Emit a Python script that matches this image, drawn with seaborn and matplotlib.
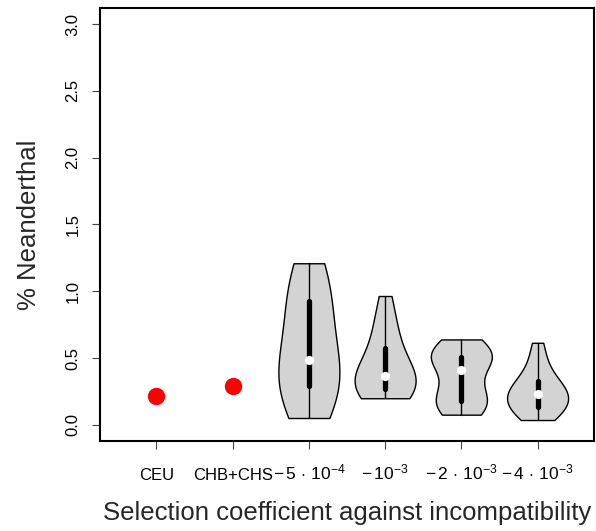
import numpy as np
import pandas as pd
import matplotlib
matplotlib.use("Agg")
import matplotlib.pyplot as plt
import seaborn as sns

# Category labels along the x axis
labels = ["CEU", "CHB+CHS",
          r"$-\,5\,\cdot\,10^{-4}$", r"$-\,10^{-3}$",
          r"$-\,2\,\cdot\,10^{-3}$", r"$-\,4\,\cdot\,10^{-3}$"]

# Observed Neanderthal ancestry (%) in the two populations
observed_groups = ["CEU", "CHB+CHS"]
observed_values = [0.214, 0.293]

# Simulated Neanderthal ancestry (%) for each selection coefficient
sim_5e4 = [0.052, 0.12, 0.19, 0.26, 0.30, 0.35, 0.40, 0.46,
           0.51, 0.64, 0.78, 0.917, 0.95, 1.04, 1.13, 1.21]
sim_1e3 = [0.20, 0.22, 0.25, 0.26, 0.273, 0.31, 0.33, 0.35,
           0.38, 0.43, 0.49, 0.55, 0.64, 0.72, 0.82, 0.965]
sim_2e3 = [0.077, 0.10, 0.14, 0.165, 0.185, 0.23, 0.29, 0.35,
           0.47, 0.48, 0.49, 0.50, 0.54, 0.57, 0.60, 0.64]
sim_4e3 = [0.037, 0.07, 0.10, 0.12, 0.14, 0.18, 0.20, 0.22,
           0.24, 0.26, 0.29, 0.32, 0.36, 0.42, 0.50, 0.615]

# Kernel bandwidth multiplier used for each violin
bw_factors = [1.3, 1.2, 1.0, 1.0]

sim_lists = [sim_5e4, sim_1e3, sim_2e3, sim_4e3]
obs = pd.DataFrame({"group": observed_groups, "value": observed_values})

sns.set_style("ticks")
plt.rcParams["font.family"] = ["Liberation Sans", "DejaVu Sans"]
plt.rcParams["mathtext.fontset"] = "custom"
plt.rcParams["mathtext.rm"] = "Liberation Sans"
plt.rcParams["mathtext.it"] = "Liberation Sans:italic"
plt.rcParams["mathtext.bf"] = "Liberation Sans:bold"

W, H = 596, 531
fig = plt.figure(figsize=(W / 100, H / 100), dpi=100)
ax = fig.add_axes([100 / W, (H - 441) / H, 494 / W, 433 / H])

for lab, vals, bw in zip(labels[2:], sim_lists, bw_factors):
    df = pd.DataFrame({"group": [lab] * len(vals), "value": vals})
    sns.violinplot(data=df, x="group", y="value", order=labels,
                   color="#D3D3D3", linecolor="black", linewidth=1.0,
                   cut=0, density_norm="width", width=0.8,
                   bw_method="scott", bw_adjust=bw,
                   inner="box",
                   inner_kws=dict(box_width=3.8, whis_width=1.0, marker="o",
                                  markersize=5.6, markeredgewidth=1.0),
                   ax=ax)

sns.stripplot(data=obs, x="group", y="value", order=labels,
              jitter=False, color="red", size=12.5, linewidth=0, ax=ax)

ax.set_xlim(-0.74, 5.74)
ax.set_ylim(-0.12, 3.12)
yticks = np.arange(0, 3.01, 0.5)
ax.set_yticks(yticks)
ax.set_yticklabels([f"{v:.1f}" for v in yticks])

for s in ax.spines.values():
    s.set_visible(True)
    s.set_linewidth(1.5)
    s.set_color("black")

ax.tick_params(axis="both", length=6, width=0.8, color="#444444",
               labelsize=12, labelcolor="black", direction="out")
ax.tick_params(axis="x", pad=22)
ax.tick_params(axis="y", pad=8, labelrotation=90)
for t in ax.get_yticklabels():
    t.set_verticalalignment("center")
for t in ax.get_xticklabels():
    t.set_verticalalignment("baseline")
    if t.get_text().startswith("$"):
        t.set_fontsize(12.5)

ax.set_xlabel("Selection coefficient against incompatibility",
              fontsize=18.5, labelpad=13)
ax.set_ylabel("% Neanderthal", fontsize=18.5, labelpad=18)

fig.savefig("out.png", dpi=100)
